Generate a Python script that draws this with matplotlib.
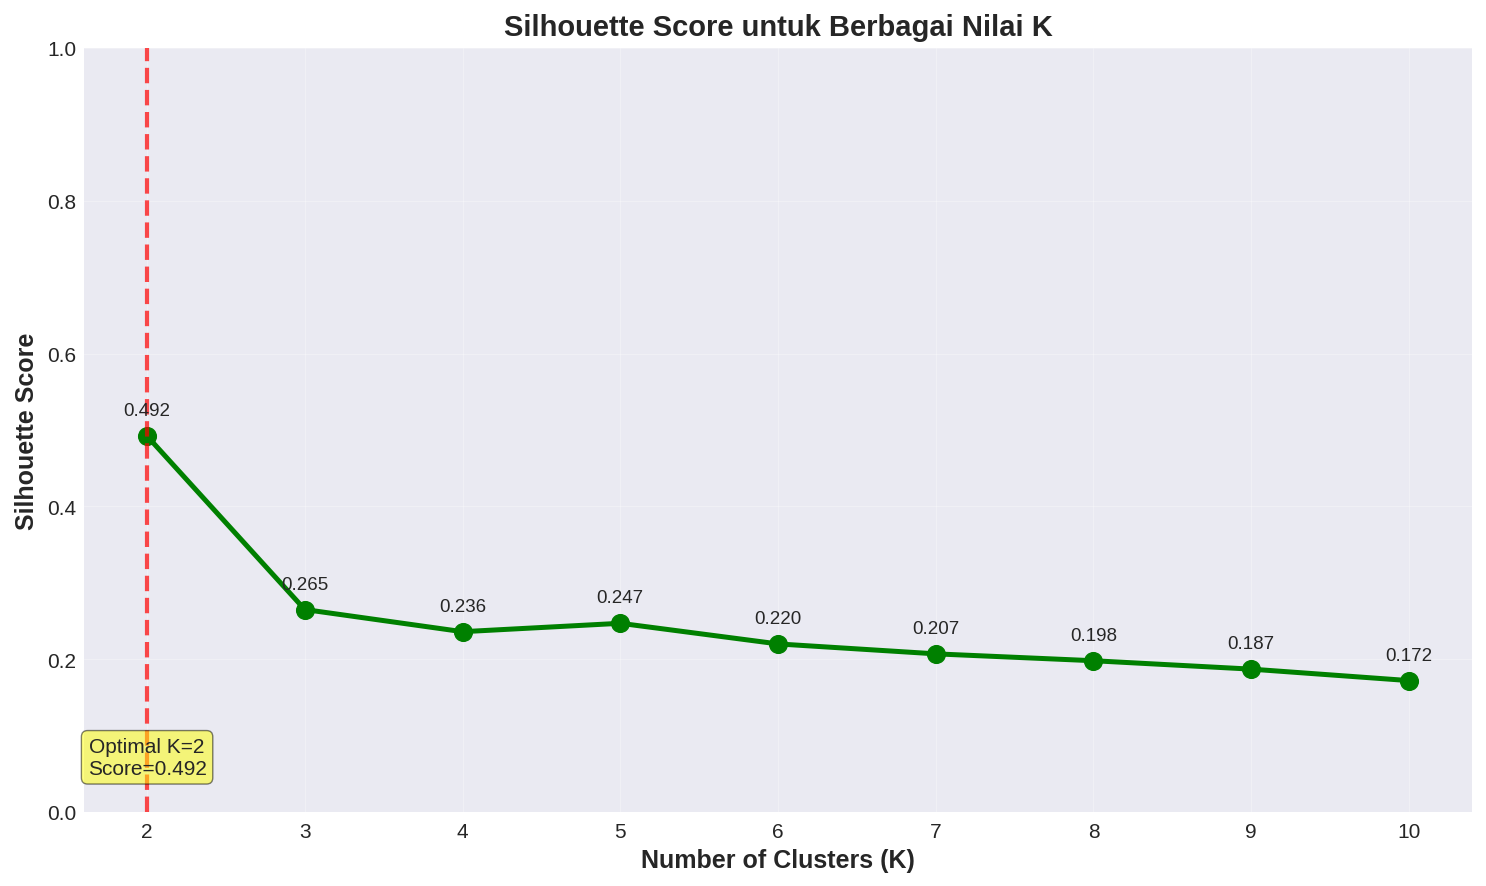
import matplotlib
matplotlib.use('Agg')
import matplotlib.pyplot as plt

k_values = [2, 3, 4, 5, 6, 7, 8, 9, 10]
scores = [0.492, 0.265, 0.236, 0.247, 0.220, 0.207, 0.198, 0.187, 0.172]
optimal_k = 2
optimal_score = 0.492

plt.style.use('seaborn-v0_8-darkgrid')
plt.rcParams['font.family'] = ['Liberation Sans', 'DejaVu Sans']

s = 1.5  # scale from dpi 150 look to dpi 100
fig = plt.figure(figsize=(14.86, 8.87), dpi=100)
ax = fig.add_axes([84 / 1486, 1 - 813 / 887, (1472 - 84) / 1486, (813 - 49) / 887])

ax.plot(k_values, scores, marker='o', color='green', linewidth=2.4 * s, markersize=8.5 * s)
for k, sc in zip(k_values, scores):
    ax.annotate(f'{sc:.3f}', (k, sc), textcoords='offset points', xytext=(0, 10 * s),
                ha='center', fontsize=9 * s)

ax.axvline(optimal_k, color='red', linestyle='--', linewidth=2 * s, alpha=0.7)
ax.text(optimal_k, 0.05, f'Optimal K={optimal_k}\nScore={optimal_score:.3f}', ha='center',
        fontsize=10 * s, bbox=dict(boxstyle='round', facecolor='yellow', alpha=0.5))

ax.set_title('Silhouette Score untuk Berbagai Nilai K', fontsize=14 * s, fontweight='bold', pad=9)
ax.set_xlabel('Number of Clusters (K)', fontsize=12 * s, fontweight='bold', labelpad=5)
ax.set_ylabel('Silhouette Score', fontsize=12 * s, fontweight='bold', labelpad=6)
ax.set_xticks(k_values)
ax.set_ylim(0, 1)
ax.tick_params(labelsize=10 * s)
ax.tick_params(axis='x', pad=plt.rcParams['xtick.major.pad'] + 3.5)
ax.tick_params(axis='y', pad=plt.rcParams['ytick.major.pad'] + 2)
ax.grid(True, alpha=0.3)

fig.savefig('out.png', dpi=100)
